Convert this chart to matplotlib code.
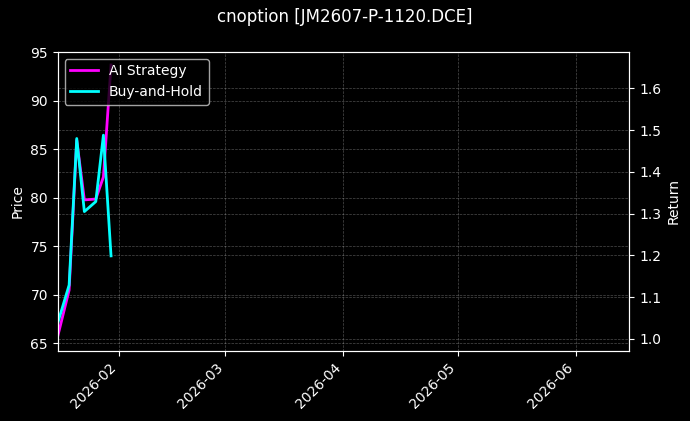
import numpy as np
import pandas as pd
import matplotlib
matplotlib.use("Agg")
import matplotlib.pyplot as plt
import matplotlib.dates as mdates

plt.style.use("dark_background")

title = "cnoption [JM2607-P-1120.DCE]"
dates = pd.to_datetime(["2026-01-16", "2026-01-19", "2026-01-21", "2026-01-23",
                        "2026-01-26", "2026-01-28", "2026-01-30"])
ai_strategy = [1.006, 1.117, 1.476, 1.333, 1.335, 1.388, 1.656]
buy_hold = [1.038, 1.129, 1.480, 1.305, 1.329, 1.488, 1.199]

price_lim = (64.24, 95.05)
return_lim = (0.972, 1.6876)
x_lim = pd.to_datetime(["2026-01-16", "2026-06-15"])

fig = plt.figure(figsize=(6.9, 4.21), dpi=100)
ax1 = fig.add_axes([0.0836, 0.167, 0.912 - 0.0836, 0.877 - 0.167])
ax2 = ax1.twinx()

ax2.plot(dates, ai_strategy, color="magenta", lw=2, label="AI Strategy")
ax2.plot(dates, buy_hold, color="cyan", lw=2, label="Buy-and-Hold")

ax1.set_ylim(*price_lim)
ax2.set_ylim(*return_lim)
ax1.set_xlim(x_lim[0], x_lim[1])
ax1.set_yticks([65, 70, 75, 80, 85, 90, 95])
ax2.set_yticks([1.0, 1.1, 1.2, 1.3, 1.4, 1.5, 1.6])

ax1.set_ylabel("Price")
ax2.set_ylabel("Return")

ax1.xaxis.set_major_locator(mdates.MonthLocator())
ax1.xaxis.set_major_formatter(mdates.DateFormatter("%Y-%m"))
plt.setp(ax1.get_xticklabels(), rotation=45, ha="right")

ax1.grid(True, linestyle="--", linewidth=0.5, alpha=0.3)
ax2.grid(True, linestyle="--", linewidth=0.5, alpha=0.3)

ax2.legend(loc="upper left")
fig.suptitle(title, fontsize=12)

fig.savefig("out.png", dpi=100)
